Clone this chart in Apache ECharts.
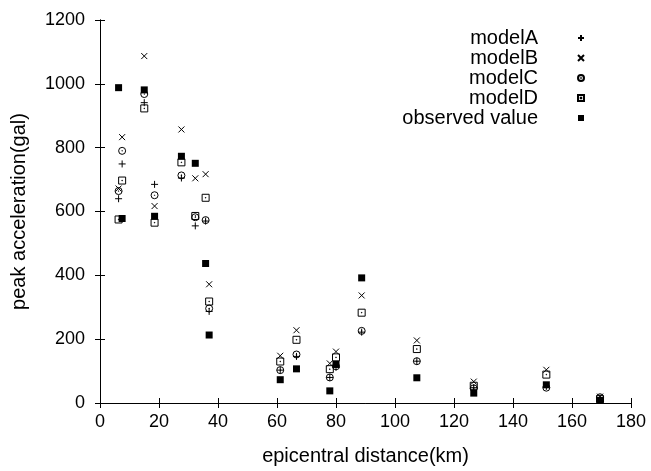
<!DOCTYPE html>
<html>
<head>
<meta charset="utf-8">
<script src="https://cdn.jsdelivr.net/npm/echarts@6/dist/echarts.min.js"></script>
<style>
html,body{margin:0;padding:0;background:#fff;}
#chart{width:651px;height:471px;}
</style>
</head>
<body>
<div id="chart"></div>
<script>
// epicentral distance (km) of each station
const distance = [6.3, 7.5, 15.0, 18.5, 27.6, 32.3, 35.8, 37.0, 61.1, 66.6, 77.9, 80.0, 88.7, 107.4, 126.7, 151.3, 169.5];
// peak acceleration (gal)
const modelA   = [640, 749, 941, 685, 705, 555, 570, 287, 103, 146, 80, 112, 222, 131, 48, 52, 15];
const modelB   = [672, 833, 1087, 617, 857, 704, 717, 372, 148, 228, 124, 161, 337, 196, 67, 104, 20];
const modelC   = [664, 790, 968, 651, 713, 582, 573, 296, 103, 152, 80, 115, 226, 131, 46, 48, 18];
const modelD   = [575, 697, 923, 565, 754, 586, 643, 318, 130, 198, 106, 143, 283, 169, 54, 89, 12];
const observed = [988, 578, 981, 585, 773, 751, 437, 213, 73, 107, 38, 121, 392, 79, 31, 57, 8];

const seriesNames = ['modelA', 'modelB', 'modelC', 'modelD', 'observed value'];
const xTicks = [0, 20, 40, 60, 80, 100, 120, 140, 160, 180];
const yTicks = [0, 200, 400, 600, 800, 1000, 1200];

const FONT = '"Liberation Sans", Arial, Helvetica, sans-serif';
const SYM = {
  plus: 'path://M5,0V10M0,5H10',
  cross: 'path://M0,0L10,10M10,0L0,10',
  circ: 'path://M10,5A5,5,0,1,1,0,5A5,5,0,1,1,10,5ZM5.4,5A0.4,0.4,0,1,1,4.6,5A0.4,0.4,0,1,1,5.4,5Z',
  sq: 'path://M0,0H10V10H0ZM4.6,4.6H5.4V5.4H4.6Z',
  fill: 'path://M0,0H10V10H0Z'
};

function pairs(ys) { return distance.map((d, i) => [d, ys[i]]); }

const openStyle = { color: 'rgba(0,0,0,0)', borderColor: '#000', borderWidth: 1, opacity: 1 };

function mkSeries(name, ys, symbol, size, style) {
  return {
    name: name, type: 'scatter', data: pairs(ys),
    symbol: symbol, symbolSize: size, symbolKeepAspect: true,
    itemStyle: style, emphasis: { disabled: true }, silent: true
  };
}

const chart = echarts.init(document.getElementById('chart'), null, { renderer: 'canvas' });

const axisCommon = {
  axisLine: { show: true, lineStyle: { color: '#000', width: 1 } },
  axisTick: { show: true, inside: true, length: 5, lineStyle: { color: '#000', width: 1 } },
  splitLine: { show: false }
};

chart.setOption({
  animation: false,
  backgroundColor: '#fff',
  grid: { left: 100, right: 20, top: 20, bottom: 67, containLabel: false },
  legend: {
    data: seriesNames,
    orient: 'vertical',
    align: 'right',
    right: 66,
    top: 28,
    padding: 0,
    itemGap: 0,
    itemWidth: 76,
    itemHeight: 6,
    symbolKeepAspect: true,
    selectedMode: false,
    textStyle: { fontFamily: FONT, fontSize: 20, color: '#000', lineHeight: 20 }
  },
  xAxis: [
    Object.assign({
      type: 'value', min: xTicks[0], max: xTicks[xTicks.length - 1], interval: 20,
      position: 'bottom',
      name: 'epicentral distance(km)', nameLocation: 'middle', nameGap: 43,
      nameTextStyle: { fontFamily: FONT, fontSize: 20, color: '#000' },
      axisLabel: { fontFamily: FONT, fontSize: 18, color: '#000', margin: 10, formatter: v => String(v) }
    }, axisCommon),
    Object.assign({
      type: 'value', min: xTicks[0], max: xTicks[xTicks.length - 1], interval: 20,
      position: 'top', axisLabel: { show: false }
    }, axisCommon)
  ],
  yAxis: [
    Object.assign({
      type: 'value', min: yTicks[0], max: yTicks[yTicks.length - 1], interval: 200,
      position: 'left',
      name: 'peak acceleration(gal)', nameLocation: 'middle', nameGap: 71,
      nameTextStyle: { fontFamily: FONT, fontSize: 20, color: '#000' },
      axisLabel: { fontFamily: FONT, fontSize: 18, color: '#000', margin: 15, formatter: v => String(v) }
    }, axisCommon),
    Object.assign({
      type: 'value', min: yTicks[0], max: yTicks[yTicks.length - 1], interval: 200,
      position: 'right', axisLabel: { show: false }
    }, axisCommon)
  ],
  series: [
    mkSeries(seriesNames[0], modelA, SYM.plus, 7, openStyle),
    mkSeries(seriesNames[1], modelB, SYM.cross, 6, openStyle),
    mkSeries(seriesNames[2], modelC, SYM.circ, 7, openStyle),
    mkSeries(seriesNames[3], modelD, SYM.sq, 7, openStyle),
    mkSeries(seriesNames[4], observed, SYM.fill, 7, { color: '#000', borderColor: '#000', borderWidth: 0, opacity: 1 })
  ]
});
</script>
</body>
</html>
